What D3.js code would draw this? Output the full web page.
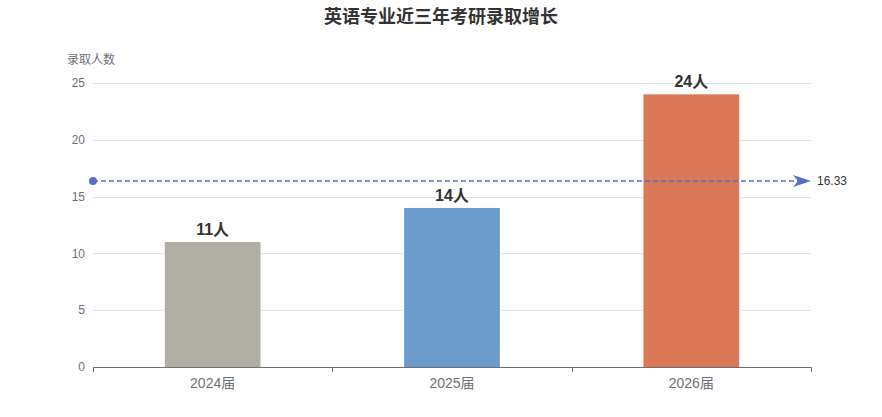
<!DOCTYPE html>
<html>
<head>
<meta charset="utf-8">
<script src="https://cdn.jsdelivr.net/npm/d3@7"></script>
<style>
  html, body { margin: 0; padding: 0; background: #fff; }
  svg { display: block; font-family: "Liberation Sans", "Noto Sans CJK SC", sans-serif; }
</style>
</head>
<body>
<svg id="chart" width="882" height="417"></svg>
<script>
/* Bar chart: admissions per year with average mark line */

const categories = ['2024届', '2025届', '2026届'];
const values = [11, 14, 24];
const barColors = ['#b0ada4', '#6b9bcb', '#d97756'];
const yTicks = [0, 5, 10, 15, 20, 25];

const margin = { top: 83, right: 71, bottom: 50, left: 93 };
const width = 882, height = 417;

const svg = d3.select('#chart');

const x = d3.scaleBand()
  .domain(categories)
  .range([margin.left, width - margin.right])
  .paddingInner(0.6)
  .paddingOuter(0.3);

const band = d3.scaleBand()
  .domain(categories)
  .range([margin.left, width - margin.right]);

const y = d3.scaleLinear()
  .domain([0, 25])
  .range([height - margin.bottom, margin.top]);

// Title
svg.append('text')
  .attr('x', width / 2)
  .attr('y', 23)
  .attr('text-anchor', 'middle')
  .attr('font-size', '18px')
  .attr('font-weight', 'bold')
  .attr('fill', '#333')
  .text('英语专业近三年考研录取增长');

// Y axis name
svg.append('text')
  .attr('x', 67)
  .attr('y', 64)
  .attr('font-size', '12px')
  .attr('fill', '#6e7079')
  .text('录取人数');

// Grid lines
svg.append('g')
  .selectAll('line')
  .data(yTicks.filter(t => t > 0))
  .join('line')
  .attr('x1', margin.left)
  .attr('x2', width - margin.right)
  .attr('y1', d => Math.round(y(d)) + 0.5)
  .attr('y2', d => Math.round(y(d)) + 0.5)
  .attr('stroke', '#e0e6f1')
  .attr('stroke-width', 1);

// Y tick labels
svg.append('g')
  .selectAll('text')
  .data(yTicks)
  .join('text')
  .attr('x', margin.left - 8)
  .attr('y', d => y(d))
  .attr('dy', '0.35em')
  .attr('text-anchor', 'end')
  .attr('font-size', '12px')
  .attr('fill', '#6e7079')
  .text(d => d);

// Bars
svg.append('g')
  .selectAll('rect')
  .data(values)
  .join('rect')
  .attr('x', (d, i) => x(categories[i]))
  .attr('y', d => y(d))
  .attr('width', x.bandwidth())
  .attr('height', d => y(0) - y(d))
  .attr('fill', (d, i) => barColors[i]);

// Bar labels
svg.append('g')
  .selectAll('text')
  .data(values)
  .join('text')
  .attr('x', (d, i) => x(categories[i]) + x.bandwidth() / 2)
  .attr('y', d => y(d) - 7)
  .attr('text-anchor', 'middle')
  .attr('font-size', '16px')
  .attr('font-weight', 'bold')
  .attr('fill', '#333')
  .text(d => d + '人');

// X axis line
svg.append('line')
  .attr('x1', margin.left)
  .attr('x2', width - margin.right)
  .attr('y1', Math.round(y(0)) + 0.5)
  .attr('y2', Math.round(y(0)) + 0.5)
  .attr('stroke', '#6e7079');

// category boundary ticks
const boundaries = [margin.left].concat(categories.map(c => band(c) + band.bandwidth()));
svg.append('g')
  .selectAll('line')
  .data(boundaries)
  .join('line')
  .attr('x1', d => Math.round(d) + 0.5)
  .attr('x2', d => Math.round(d) + 0.5)
  .attr('y1', y(0))
  .attr('y2', y(0) + 5)
  .attr('stroke', '#6e7079');

svg.append('g')
  .selectAll('text')
  .data(categories)
  .join('text')
  .attr('x', d => band(d) + band.bandwidth() / 2)
  .attr('y', y(0) + 21)
  .attr('text-anchor', 'middle')
  .attr('font-size', '14px')
  .attr('fill', '#6e7079')
  .text(d => d);

// Average mark line
const avg = d3.mean(values);
const ay = Math.round(y(avg));
const xr = width - margin.right;
svg.append('line')
  .attr('x1', margin.left)
  .attr('x2', xr - 10)
  .attr('y1', ay)
  .attr('y2', ay)
  .attr('stroke', '#5470c6')
  .attr('stroke-width', 1.5)
  .attr('stroke-dasharray', '5,3');

svg.append('circle')
  .attr('cx', margin.left)
  .attr('cy', ay)
  .attr('r', 4)
  .attr('fill', '#5470c6');

svg.append('path')
  .attr('d', `M${xr - 18},${ay - 6} L${xr},${ay} L${xr - 18},${ay + 6} L${xr - 13},${ay} Z`)
  .attr('fill', '#5470c6');

svg.append('text')
  .attr('x', xr + 6)
  .attr('y', ay)
  .attr('dy', '0.35em')
  .attr('font-size', '12px')
  .attr('fill', '#333')
  .text(avg.toFixed(2));
</script>
</body>
</html>
